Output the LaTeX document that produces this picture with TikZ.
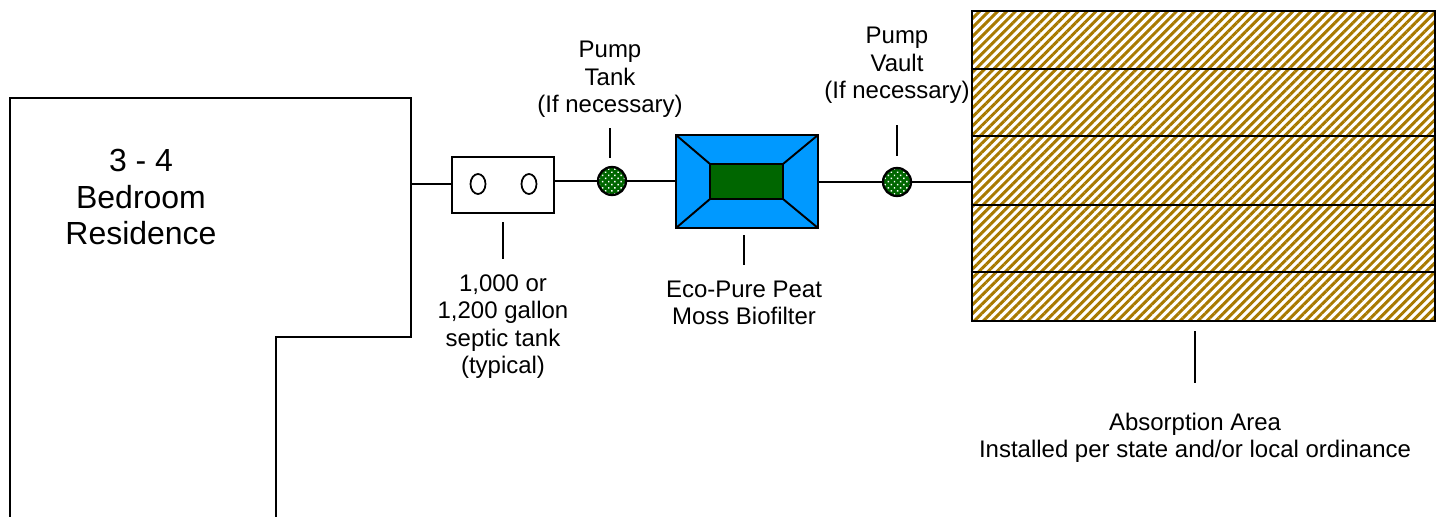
\documentclass[tikz,border=0pt]{standalone}
\usepackage{fontspec}
\setmainfont{Liberation Sans}
\usetikzlibrary{positioning, patterns.meta, shapes.geometric}
\definecolor{filterblue}{HTML}{0099FF}
\definecolor{filtergreen}{HTML}{006600}
\definecolor{fieldbrown}{HTML}{A87900}
\tikzset{
	x=0.02cm,
	y=-0.02cm,
	line/.style={line width=1.1pt},
	every label text/.style={align=center, font=\fontsize{13.65}{15.7}\selectfont, inner sep=0pt},
	tank/.style={draw, line width=1.3pt, fill=white, inner sep=0pt, minimum width=2.04cm, minimum height=1.12cm},
	port/.style={draw, line width=1pt, ellipse, inner sep=0pt, minimum width=0.3cm, minimum height=0.4cm},
	pump/.style={circle, draw, line width=1.3pt, inner sep=0pt, minimum size=0.56cm,
		pattern={Dots[radius=0.6pt, distance=2.5pt, angle=45]}, pattern color=white, preaction={fill=filtergreen}},
	biofilter/.style={rectangle, draw, line width=1.5pt, fill=filterblue, inner sep=0pt, outer sep=0pt, minimum width=2.84cm, minimum height=1.86cm},
	core/.style={rectangle, draw, line width=1.5pt, fill=filtergreen, inner sep=0pt, outer sep=0pt, minimum width=1.46cm, minimum height=0.7cm},
	field/.style={rectangle, draw, line width=1.6pt, inner sep=0pt, minimum width=9.26cm, minimum height=6.2cm,
		pattern={Lines[angle=45, distance=3.6pt, line width=1.7pt]}, pattern color=fieldbrown}
}
\begin{document}
\begin{tikzpicture}
	\useasboundingbox (0,0) rectangle (1443,517);

	%House
	\draw[line] (10,517) -- (10,98) -- (411,98) -- (411,337) -- (276,337) -- (276,517);
	\node[every label text, font=\fontsize{18.2}{20.8}\selectfont] (residence) at (141,197) {3 - 4\\Bedroom\\Residence};
	\coordinate (housedoor) at (411,184);

	%Line of tanks
	\node[tank] (septic) at (503,185) {};
	\node[port] (port1) at (478,184) {};
	\node[port] (port2) at (529,184) {};
	\node[pump] (pump1) at (612,181) {};
	\node[biofilter] (filter) at (747,181.5) {};
	\node[core] (inner) at (746.5,181.5) {};
	\node[pump] (pump2) at (897,182) {};
	\node[field] (area) at (1203.5,166) {};

	%Leaders
	\coordinate (septictop) at (503,222);
	\coordinate (septicend) at (503,259);
	\coordinate (pump1end) at (610,128);
	\coordinate (pump1top) at (610,158);
	\coordinate (filtertop) at (744,235);
	\coordinate (filterend) at (744,265);
	\coordinate (pump2end) at (897,125);
	\coordinate (pump2top) at (897,156);
	\coordinate (areatop) at (1195,331);
	\coordinate (areaend) at (1195,383);

	%Labels
	\node[every label text, below=0.3cm of septicend] (septiclabel) {1,000 or\\1,200 gallon\\septic tank\\(typical)};
	\node[every label text, above=0.2cm of pump1end] (pump1label) {Pump\\Tank\\(If necessary)};
	\node[every label text, below=0.31cm of filterend] (filterlabel) {Eco-Pure Peat\\Moss Biofilter};
	\node[every label text, above=0.42cm of pump2end] (pump2label) {Pump\\Vault\\(If necessary)};
	\node[every label text, below=0.59cm of areaend] (arealabel) {Absorption Area\\Installed per state and/or local ordinance};

	%Pipes
	\draw[line] (housedoor) -- (septic.west |- housedoor);
	\draw[line] (septic.east |- pump1) -- (pump1);
	\draw[line] (pump1) -- (filter.west |- pump1);
	\draw[line] (filter.east |- pump2) -- (pump2);
	\draw[line] (pump2) -- (area.west |- pump2);

	%Biofilter corners
	\draw[line] (filter.north west) -- (inner.north west);
	\draw[line] (filter.north east) -- (inner.north east);
	\draw[line] (filter.south west) -- (inner.south west);
	\draw[line] (filter.south east) -- (inner.south east);

	%Rows
	\foreach \rowy in {69,136,205,272}
		\draw[line] (area.west |- 0,\rowy) -- (area.east |- 0,\rowy);

	\draw[line] (septictop) -- (septicend);
	\draw[line] (pump1end) -- (pump1top);
	\draw[line] (filtertop) -- (filterend);
	\draw[line] (pump2end) -- (pump2top);
	\draw[line] (areatop) -- (areaend);
\end{tikzpicture}
\end{document}
